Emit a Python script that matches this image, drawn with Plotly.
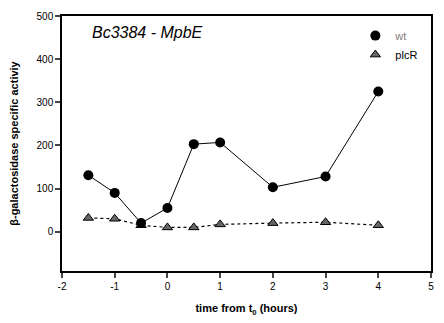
import plotly.graph_objects as go

time_h = [-1.5, -1, -0.5, 0, 0.5, 1, 2, 3, 4]
wt = [131, 90, 20, 55, 203, 207, 103, 128, 325]
plcR = [32, 30, 15, 10, 10, 17, 20, 22, 15]

x_ticks = [-2, -1, 0, 1, 2, 3, 4, 5]
x_labels = ["-2", "-1", "0", "1", "2", "3", "4", "5"]
y_ticks = [0, 100, 200, 300, 400, 500]
y_labels = ["0", "100", "200", "300", "400", "500"]

fig = go.Figure()
fig.add_trace(go.Scatter(x=time_h, y=plcR, mode="lines+markers", showlegend=False,
                         line=dict(color="black", width=1.2, dash="dot"),
                         marker=dict(symbol="triangle-up", size=9, color="#666666",
                                     line=dict(color="black", width=1))))
fig.add_trace(go.Scatter(x=time_h, y=wt, mode="lines+markers", showlegend=False,
                         line=dict(color="black", width=1),
                         marker=dict(symbol="circle", size=10, color="black")))
# legend entries (markers only)
fig.add_trace(go.Scatter(x=[None], y=[None], mode="markers", name="<span style='color:#808080'>wt</span>",
                         marker=dict(symbol="circle", size=10, color="black")))
fig.add_trace(go.Scatter(x=[None], y=[None], mode="markers", name="plcR",
                         marker=dict(symbol="triangle-up", size=9, color="#666666",
                                     line=dict(color="black", width=1))))

fig.update_layout(
    width=444, height=323,
    margin=dict(l=62, r=10, t=12, b=50),
    plot_bgcolor="white", paper_bgcolor="white",
    font=dict(family="Liberation Sans, Arial", size=10, color="black"),
    legend=dict(x=0.795, y=0.98, xanchor="left", yanchor="top", bgcolor="rgba(0,0,0,0)",
                font=dict(size=11), itemwidth=30, tracegroupgap=0),
    annotations=[dict(text="<i>Bc3384 - MpbE</i>", x=0.075, y=0.975, xref="paper", yref="paper",
                      xanchor="left", yanchor="top", showarrow=False, font=dict(size=16))],
)
fig.update_xaxes(range=[-2, 5], tickvals=x_ticks, ticktext=x_labels, ticks="outside", ticklen=5,
                 tickwidth=1.5, showline=True, linecolor="black", linewidth=1.5, mirror=True,
                 showgrid=False, zeroline=False,
                 title=dict(text="<b>time from t<sub>0</sub> (hours)</b>", font=dict(size=11), standoff=14))
fig.update_yaxes(range=[-91, 500], tickvals=y_ticks, ticktext=y_labels, ticks="outside", ticklen=5,
                 tickwidth=1.5, showline=True, linecolor="black", linewidth=1.5, mirror=True,
                 showgrid=False, zeroline=False,
                 title=dict(text="<b>β-galactosidase specific activiy</b>", font=dict(size=11), standoff=16))

fig.write_html("out.html")
